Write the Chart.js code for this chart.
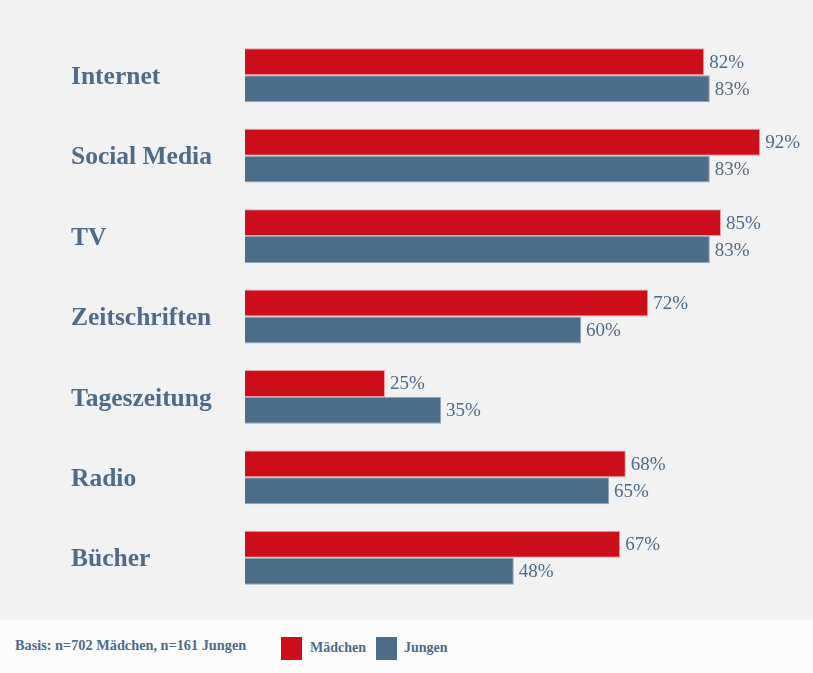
<!DOCTYPE html>
<html>
<head>
<meta charset="utf-8">
<script src="https://cdn.jsdelivr.net/npm/chart.js@4"></script>
<style>
  html, body { margin: 0; padding: 0; }
  body { width: 813px; height: 673px; background: #fcfcfc; overflow: hidden; font-family: "Liberation Serif", serif; }
  #wrap { position: relative; width: 813px; height: 620px; background: #f2f2f2; }
  #footer { position: relative; width: 813px; height: 53px; background: #fcfcfc; color: #4e6b88; font-weight: bold; }
  #basis { position: absolute; left: 15px; top: 17px; font-size: 14.3px; white-space: nowrap; }
  .sw { position: absolute; width: 21px; height: 23px; }
  .lt { position: absolute; font-size: 14px; white-space: nowrap; }
</style>
</head>
<body>
<div id="wrap"><canvas id="c"></canvas></div>
<div id="footer">
  <div id="basis"></div>
  <div id="legend"></div>
</div>
<script>
const categories = ["Internet", "Social Media", "TV", "Zeitschriften", "Tageszeitung", "Radio", "Bücher"];
const maedchen = [82, 92, 85, 72, 25, 68, 67];
const jungen = [83, 83, 83, 60, 35, 65, 48];
const seriesNames = ["Mädchen", "Jungen"];
const seriesColors = ["#cc0e1a", "#4b6d8a"];
const seriesBorders = ["#f0a0a6", "#8fa6ba"];
const basisText = "Basis: n=702 Mädchen, n=161 Jungen";

const textColor = "#4e6b88";

document.getElementById("basis").textContent = basisText;
const legend = document.getElementById("legend");
const legendX = [281, 376];
const legendTextX = [310, 404];
seriesNames.forEach((n, i) => {
  const sw = document.createElement("div");
  sw.className = "sw";
  sw.style.left = legendX[i] + "px";
  sw.style.top = "17px";
  sw.style.background = seriesColors[i];
  legend.appendChild(sw);
  const t = document.createElement("div");
  t.className = "lt";
  t.style.left = legendTextX[i] + "px";
  t.style.top = "20px";
  t.textContent = n;
  legend.appendChild(t);
});

const valueLabels = {
  id: "valueLabels",
  afterDatasetsDraw(chart) {
    const ctx = chart.ctx;
    ctx.save();
    ctx.font = "19px 'Liberation Serif'";
    ctx.fillStyle = textColor;
    ctx.textBaseline = "middle";
    ctx.textAlign = "left";
    chart.data.datasets.forEach((ds, di) => {
      const meta = chart.getDatasetMeta(di);
      meta.data.forEach((el, i) => {
        ctx.fillText(ds.data[i] + "%", el.x + 5, el.y + 1);
      });
    });
    ctx.restore();
  }
};

new Chart(document.getElementById("c"), {
  type: "bar",
  data: {
    labels: categories,
    datasets: [
      { label: seriesNames[0], data: maedchen, backgroundColor: seriesColors[0], borderColor: seriesBorders[0], borderWidth: 1, borderSkipped: "left" },
      { label: seriesNames[1], data: jungen, backgroundColor: seriesColors[1], borderColor: seriesBorders[1], borderWidth: 1, borderSkipped: "left" }
    ]
  },
  options: {
    indexAxis: "y",
    responsive: true,
    maintainAspectRatio: false,
    animation: false,
    devicePixelRatio: 1,
    layout: { padding: { left: 71, right: 8, top: 35, bottom: 22 } },
    datasets: { bar: { categoryPercentage: 0.67, barPercentage: 1.0 } },
    plugins: { legend: { display: false }, tooltip: { enabled: false } },
    scales: {
      x: { display: false, min: 0, max: 100 },
      y: {
        grid: { display: false },
        border: { display: false },
        ticks: {
          crossAlign: "far",
          color: textColor,
          font: { family: "Liberation Serif", size: 25.5, weight: "bold" },
          padding: 0,
          labelOffset: 2
        },
        afterFit(scale) { scale.width = 174; }
      }
    }
  },
  plugins: [valueLabels]
});
</script>
</body>
</html>
